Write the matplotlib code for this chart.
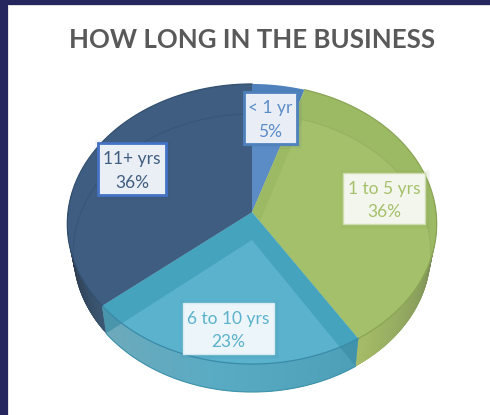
import matplotlib
matplotlib.use('Agg')
import matplotlib.pyplot as plt
import matplotlib.colors as mcolors
from matplotlib.patches import Polygon, Rectangle
import numpy as np

plt.rcParams['font.family'] = ['Lato', 'DejaVu Sans']

# share of respondents, clockwise from 12 o'clock
categories = ['< 1 yr', '1 to 5 yrs', '6 to 10 yrs', '11+ yrs']
values = [5, 36, 23, 36]

top_colors = ['#4f81bd', '#9cb964', '#46a3bd', '#3f5d80']
floor_colors = ['#5b8cc6', '#a5c06a', '#5bb2cc', '#3f5d80']
rim_colors = ['#44719f', '#8aa556', '#3a8ba8', '#33506f']
back_line = ['#5079ad', '#97b262', '#3f93ad', '#38557a']
text_colors = ['#5b8cc6', '#a5c06a', '#5bb2cc', '#3f5d80']
box_fill = ['#e9eef6', '#f3f6ec', '#ecf5f9', '#eaeef5']
box_edge = ['#4f81bd', '#cfdcb0', '#d5eaf1', '#4472c4']
box_lw = [2, 1, 1, 2]
box_rect = [(244, 92, 53, 52), (343, 173, 82, 51), (183, 303, 91, 51), (98, 143, 68, 52)]

# top face and the floor of the disc seen through the glass
top_face = dict(cx=252, cy=212, a=184, b=139, k=0.0857)
floor = dict(cx=252, cy=240, a=178, b=137.8, k=0.0935)


def project(angle, disc):
    rad = np.radians(angle)
    d = 1 + disc['k'] * np.cos(rad)
    return (disc['cx'] + disc['a'] * np.sin(rad) / d,
            disc['cy'] - disc['b'] * np.cos(rad) / d)


def wedge(start, end, disc):
    t = np.linspace(start, end, 120)
    x, y = project(t, disc)
    x = np.r_[disc['cx'], x]
    y = np.r_[disc['cy'], y]
    return np.column_stack([x, y])


def side_color(angle, i):
    # the wall gets darker towards both silhouette edges
    if i == 1:
        stops = [(90, '#56673a'), (112, '#84995a'), (147.6, '#a6bd68')]
    elif i == 2:
        stops = [(147.6, '#4d9fb8'), (190, '#59abc4'), (230.4, '#6fa9ba')]
    else:
        stops = [(230.4, '#3c5874'), (255, '#2c3c50'), (275, '#1f2a3a')]
    pos = [s[0] for s in stops]
    rgb = np.array([mcolors.to_rgb(s[1]) for s in stops])
    return [np.interp(angle, pos, rgb[:, c]) for c in range(3)]


def rim_crossing(edge, start, end):
    # point of the top rim where the floor edge of a slice passes under it
    t = np.linspace(start, end, 400)
    rx, ry = project(t, top_face)
    ex, ey = project(edge, floor)
    side = (ex - floor['cx']) * (ry - floor['cy']) - (ey - floor['cy']) * (rx - floor['cx'])
    return rx[np.argmin(np.abs(side))], ry[np.argmin(np.abs(side))]


fig = plt.figure(figsize=(4.9, 4.15), dpi=100)
ax = fig.add_axes([0, 0, 1, 1])
ax.set_xlim(0, 490)
ax.set_ylim(415, 0)
ax.axis('off')

# slide frame
ax.add_patch(Rectangle((0, 0), 490, 5, color='#25265e', lw=0))
ax.add_patch(Rectangle((0, 0), 7.5, 415, color='#25265e', lw=0))
ax.add_patch(Rectangle((7.5, 5), 482.5, 1.5, color='#dcdce0', lw=0))
ax.add_patch(Rectangle((7.5, 5), 1, 410, color='#e4e4e8', lw=0))

edges = np.r_[0, np.cumsum(values)] * 360 / sum(values)

# outer wall, drawn as overlapping strips so the shading can vary without seams
for i in [1, 2, 3]:
    lo, hi = max(edges[i], 85), min(edges[i + 1], 278)
    steps = np.linspace(lo, hi, int(hi - lo) * 2 + 2)
    for t0 in steps[:-1]:
        t1 = min(t0 + 2.0, hi)
        x0, y0 = project(t0, top_face)
        x1, y1 = project(t1, top_face)
        x2, y2 = project(t1, floor)
        x3, y3 = project(t0, floor)
        ax.add_patch(Polygon([(x0, y0), (x1, y1), (x2, y2), (x3, y3)],
                             facecolor=side_color(t0, i), edgecolor='none'))

# top face with the lighter floor showing through it
for i in range(len(values)):
    shape = Polygon(wedge(edges[i], edges[i + 1], top_face), facecolor=top_colors[i], edgecolor='none')
    ax.add_patch(shape)
    inner = Polygon(wedge(edges[i], edges[i + 1], floor), facecolor=floor_colors[i], edgecolor='none')
    ax.add_patch(inner)
    inner.set_clip_path(shape)
    t = np.linspace(edges[i], edges[i + 1], 120)
    line, = ax.plot(*project(t, floor), color=back_line[i], lw=0.8)
    line.set_clip_path(shape)

# darker corners where the slice walls show through the front wall
for edge, start, end in [(edges[2], edges[2], edges[3]), (edges[3], edges[2], edges[3])]:
    corner = [project(edge, top_face), project(edge, floor), rim_crossing(edge, start, end)]
    ax.add_patch(Polygon(corner, facecolor='#3d8fa8', edgecolor='none', alpha=0.75))

# rim and floor line along the front of the disc
for i in [1, 2, 3]:
    t = np.linspace(edges[i], edges[i + 1], 120)
    ax.plot(*project(t, top_face), color=rim_colors[i], lw=0.9)
t = np.linspace(edges[2], edges[3], 120)
ax.plot(*project(t, floor), color='#3f93ad', lw=0.8)

# data labels
for i, name in enumerate(categories):
    x, y, w, h = box_rect[i]
    for grow, alpha in [(4, 0.06), (2.5, 0.08), (1, 0.1)]:
        ax.add_patch(Rectangle((x - grow + 1, y - grow + 1), w + 2 * grow, h + 2 * grow,
                               facecolor=rim_colors[i], alpha=alpha, lw=0, zorder=5))
    ax.add_patch(Rectangle((x, y), w, h, facecolor=box_fill[i], edgecolor=box_edge[i], lw=box_lw[i], zorder=6))
    ax.text(x + w / 2, y + h * 0.31, name, color=text_colors[i], fontsize=12.5, ha='center', va='center', zorder=7)
    ax.text(x + w / 2, y + h * 0.76, f'{values[i]}%', color=text_colors[i], fontsize=12.5, ha='center', va='center', zorder=7)

ax.text(252, 39.5, 'HOW LONG IN THE BUSINESS', color='#595959', fontsize=18.6, fontweight='bold',
        ha='center', va='center')

fig.savefig('out.png', dpi=100)
